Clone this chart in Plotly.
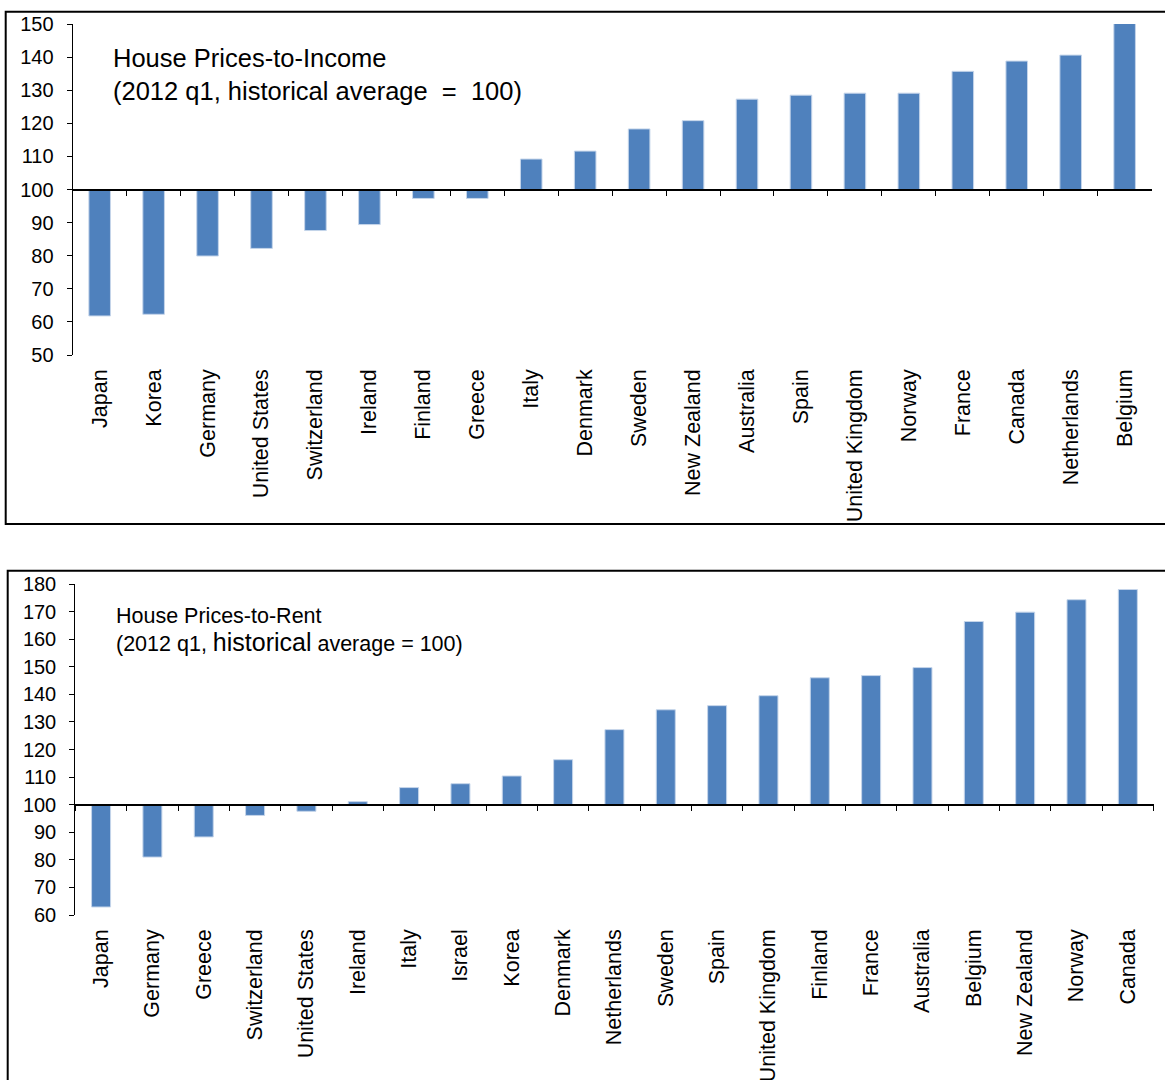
import plotly.graph_objects as go

# ---------------- data ----------------
income_countries = ["Japan", "Korea", "Germany", "United States", "Switzerland", "Ireland",
                    "Finland", "Greece", "Italy", "Denmark", "Sweden", "New Zealand",
                    "Australia", "Spain", "United Kingdom", "Norway", "France", "Canada",
                    "Netherlands", "Belgium"]
income_values = [61.8, 62.3, 79.9, 82.2, 87.6, 89.4, 97.3, 97.3, 109.2, 111.6, 118.3, 120.8,
                 127.3, 128.5, 129.1, 129.1, 135.7, 138.8, 140.6, 150.5]

rent_countries = ["Japan", "Germany", "Greece", "Switzerland", "United States", "Ireland",
                  "Italy", "Israel", "Korea", "Denmark", "Netherlands", "Sweden", "Spain",
                  "United Kingdom", "Finland", "France", "Australia", "Belgium", "New Zealand",
                  "Norway", "Canada"]
rent_values = [62.9, 81.0, 88.3, 96.1, 97.6, 101.1, 106.2, 107.6, 110.4, 116.3, 127.2, 134.4,
               135.9, 139.5, 146.0, 146.8, 149.7, 166.4, 169.8, 174.3, 178.0]

BASE = 100
income_range = [50, 150]
rent_range = [60, 180]
income_title = "House Prices-to-Income<br>(2012 q1, historical average  =  100)"
rent_title = ("House Prices-to-Rent<br>(2012 q1, <span style='font-size:25px'>historical</span>"
              " average = 100)")

# ---------------- layout geometry (pixels) ----------------
W, H = 1165, 1080
FONT = "Arial, 'Liberation Sans', sans-serif"
BLUE = "#4F81BD"


def px_x(p):
    return p / W


def px_y(p):
    return 1 - p / H


top_dom_x = [px_x(72.7), px_x(1151.6)]
top_dom_y = [px_y(355), px_y(24)]
bot_dom_x = [px_x(75.4), px_x(1153.5)]
bot_dom_y = [px_y(915), px_y(584)]


def base_pos(dom, rng):
    return dom[0] + (BASE - rng[0]) / (rng[1] - rng[0]) * (dom[1] - dom[0])


fig = go.Figure()

# bars
fig.add_trace(go.Bar(x=income_countries, y=[v - BASE for v in income_values], base=BASE,
                     marker=dict(color=BLUE, line=dict(color="#C5D5EA", width=1)),
                     width=0.4, cliponaxis=False, xaxis="x", yaxis="y", showlegend=False,
                     customdata=income_values, hovertemplate="%{x}: %{customdata}<extra></extra>"))
fig.add_trace(go.Bar(x=rent_countries, y=[v - BASE for v in rent_values], base=BASE,
                     marker=dict(color=BLUE, line=dict(color="#C5D5EA", width=1)),
                     width=0.37, cliponaxis=False, xaxis="x2", yaxis="y2", showlegend=False,
                     customdata=rent_values, hovertemplate="%{x}: %{customdata}<extra></extra>"))
# invisible helpers to carry the baseline axes
fig.add_trace(go.Scatter(x=income_countries, y=income_values, mode="markers",
                         marker=dict(opacity=0), hoverinfo="skip", showlegend=False,
                         xaxis="x3", yaxis="y"))
fig.add_trace(go.Scatter(x=rent_countries, y=rent_values, mode="markers",
                         marker=dict(opacity=0), hoverinfo="skip", showlegend=False,
                         xaxis="x4", yaxis="y2"))

tickfont = dict(family=FONT, size=20, color="black")
catfont = dict(family=FONT, size=21.5, color="black")

label_axis = dict(type="category", showline=False, ticks="", showgrid=False, zeroline=False,
                  tickangle=-90, tickfont=catfont, ticklabelstandoff=9, fixedrange=True,
                  automargin=False)
base_axis = dict(type="category", showline=True, linecolor="black", linewidth=1.6,
                 ticks="outside", ticklen=6, tickwidth=1.3, tickcolor="black",
                 tickson="boundaries", showticklabels=False, showgrid=False, zeroline=False,
                 anchor="free", fixedrange=True, automargin=False)
val_axis = dict(showline=True, linecolor="black", linewidth=1.3, ticks="outside", ticklen=5,
                tickwidth=1.3, tickcolor="black", dtick=10, showgrid=False, zeroline=False,
                tickfont=tickfont, ticklabelstandoff=9, fixedrange=True, automargin=False)

fig.update_layout(
    width=W, height=H,
    margin=dict(l=0, r=0, t=0, b=0, pad=0, autoexpand=False),
    paper_bgcolor="white", plot_bgcolor="rgba(0,0,0,0)",
    showlegend=False,
    font=dict(family=FONT, color="black"),
    xaxis=dict(**label_axis, domain=top_dom_x, anchor="y",
               range=[-0.5, len(income_countries) - 0.5]),
    yaxis=dict(**val_axis, domain=top_dom_y, anchor="x", range=income_range),
    xaxis3=dict(**base_axis, overlaying="x", position=base_pos(top_dom_y, income_range),
                range=[-0.5, len(income_countries) - 0.5]),
    xaxis2=dict(**label_axis, domain=bot_dom_x, anchor="y2",
                range=[-0.5, len(rent_countries) - 0.5]),
    yaxis2=dict(**val_axis, domain=bot_dom_y, anchor="x2", range=rent_range),
    xaxis4=dict(**base_axis, overlaying="x2", position=base_pos(bot_dom_y, rent_range),
                range=[-0.5, len(rent_countries) - 0.5]),
    shapes=[
        dict(type="rect", xref="paper", yref="paper", x0=px_x(5.7), x1=px_x(1175),
             y0=px_y(524), y1=px_y(11.7), line=dict(color="black", width=2),
             fillcolor="rgba(0,0,0,0)", layer="below"),
        dict(type="rect", xref="paper", yref="paper", x0=px_x(7.7), x1=px_x(1175),
             y0=px_y(1095), y1=px_y(570.7), line=dict(color="black", width=2),
             fillcolor="rgba(0,0,0,0)", layer="below"),
    ],
    annotations=[
        dict(text=income_title, xref="paper", yref="paper", x=px_x(111), y=px_y(75),
             xanchor="left", yanchor="middle", align="left", showarrow=False,
             font=dict(family=FONT, size=25.5, color="black")),
        dict(text=rent_title, xref="paper", yref="paper", x=px_x(114), y=px_y(630),
             xanchor="left", yanchor="middle", align="left", showarrow=False,
             font=dict(family=FONT, size=21.5, color="black")),
    ],
)

fig.write_html("out.html")
